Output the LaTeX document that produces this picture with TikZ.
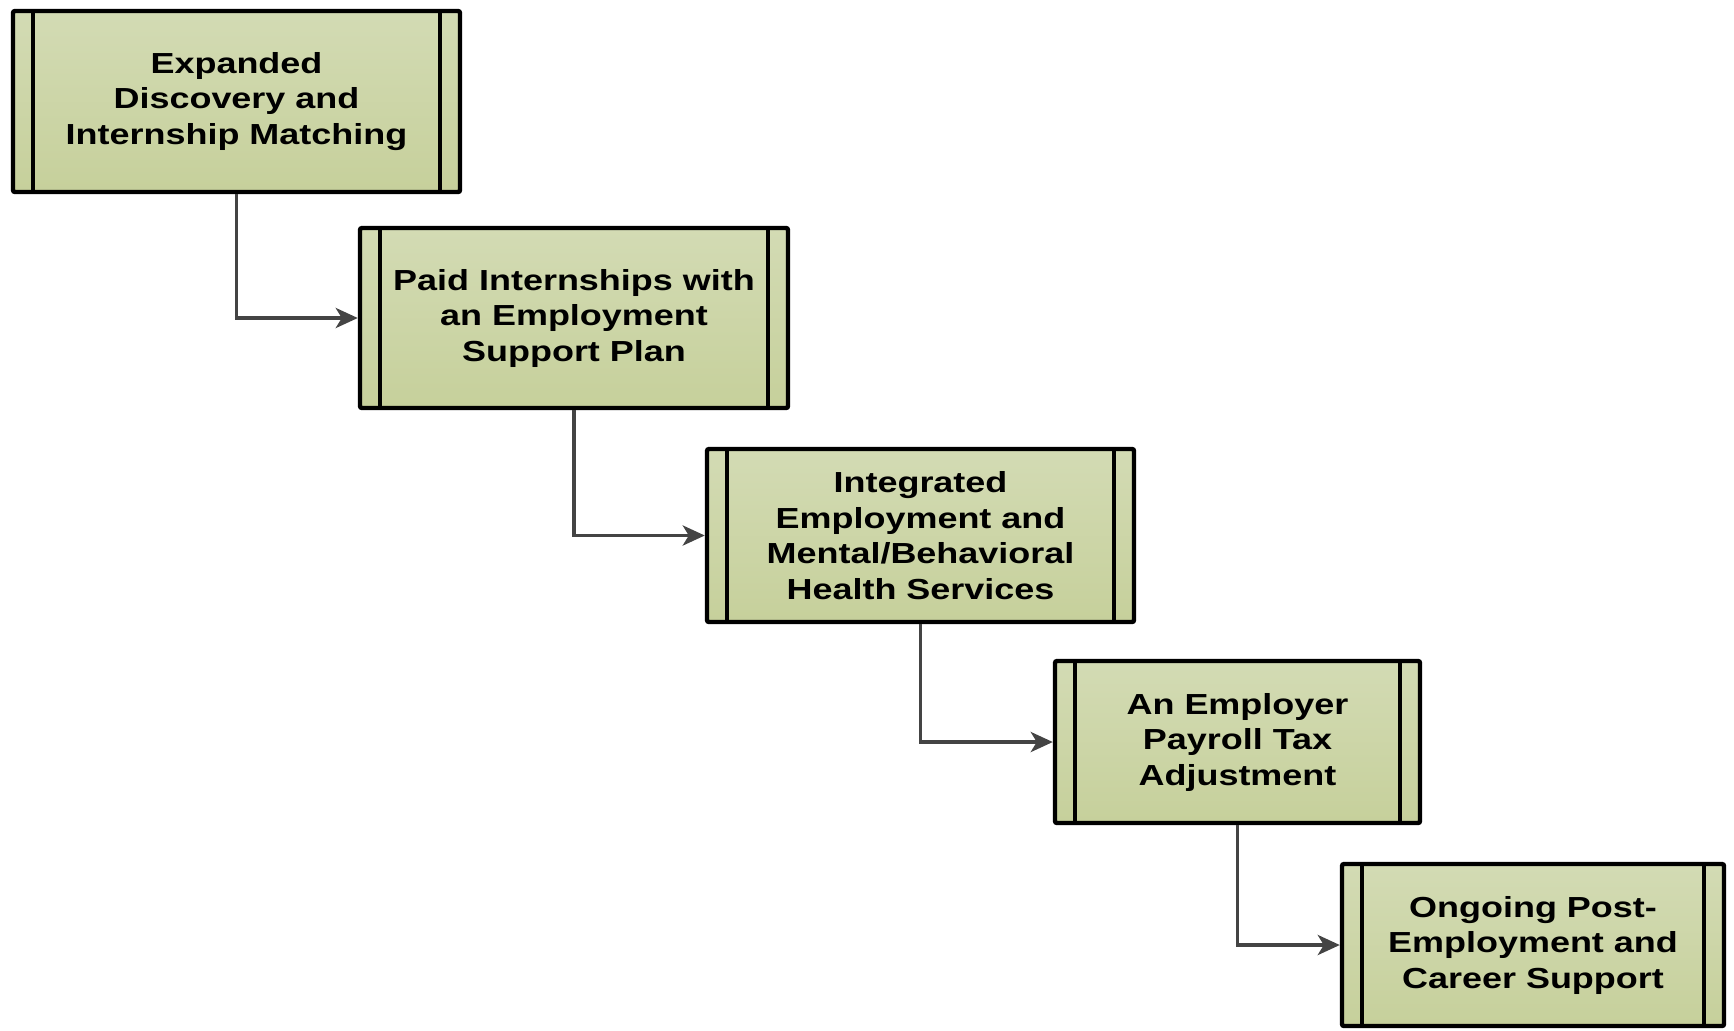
\documentclass[tikz,border=0pt]{standalone}
\usepackage{fontspec}
\newfontfamily\boxfont{Liberation Sans}[FakeStretch=1.24]
\usetikzlibrary{arrows.meta}
\definecolor{boxtop}{RGB}{211,219,180}
\definecolor{boxbottom}{RGB}{198,208,155}
\definecolor{linkgray}{RGB}{68,68,68}

\begin{document}
\begin{tikzpicture}[
  x=0.5pt, y=-0.5pt,
  stage/.style={rectangle, draw=black, line width=2.2pt, rounded corners=1pt,
                top color=boxtop, bottom color=boxbottom, align=center,
                font=\boxfont\bfseries\fontsize{14.5}{17.75}\selectfont,
                path picture={
                  \draw[line width=2.2pt]
                    ([xshift=10pt]path picture bounding box.north west) --
                    ([xshift=10pt]path picture bounding box.south west)
                    ([xshift=-10pt]path picture bounding box.north east) --
                    ([xshift=-10pt]path picture bounding box.south east);
                }},
  link/.style={-{Stealth[length=11pt, width=10pt, inset=3pt]}, draw=linkgray,
               line width=1.9pt}
]
  \useasboundingbox (0,0) rectangle (1734,1030);

  \node[stage, minimum width=223.5pt, minimum height=90.5pt] (discovery) at (236.5, 101.5)
    {Expanded\\Discovery and\\Internship Matching};
  \node[stage, minimum width=214pt, minimum height=90pt] (internship) at (574, 318)
    {Paid Internships with\\an Employment\\Support Plan};
  \node[stage, minimum width=213.5pt, minimum height=86.5pt] (health) at (920.5, 535.5)
    {Integrated\\Employment and\\Mental/Behavioral\\Health Services};
  \node[stage, minimum width=182.5pt, minimum height=81pt] (payroll) at (1237.5, 742)
    {An Employer\\Payroll Tax\\Adjustment};
  \node[stage, minimum width=191pt, minimum height=81pt] (career) at (1533, 945)
    {Ongoing Post-\\Employment and\\Career Support};

  \draw[link] (discovery.south) |- (internship.west);
  \draw[link] (internship.south) |- (health.west);
  \draw[link] (health.south) |- (payroll.west);
  \draw[link] (payroll.south) |- (career.west);
\end{tikzpicture}
\end{document}
